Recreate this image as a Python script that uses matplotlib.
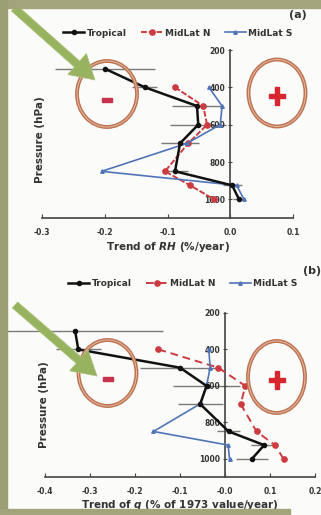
import numpy as np
import matplotlib
matplotlib.use('Agg')
import matplotlib.pyplot as plt
from matplotlib import patches

W, H = 321, 515

plt.rcParams['font.family'] = ['DejaVu Sans']
plt.rcParams['font.weight'] = 'bold'
plt.rcParams['mathtext.fontset'] = 'custom'
plt.rcParams['mathtext.it'] = 'DejaVu Sans:italic:bold'
plt.rcParams['mathtext.rm'] = 'DejaVu Sans:bold'

# pressure levels (hPa)
lev_trop = [300, 400, 500, 600, 700, 850, 925, 1000]
lev_mid = [400, 500, 600, 700, 850, 925, 1000]

# (a) trend of RH (%/year)
rh_trop = [-0.200, -0.136, -0.053, -0.051, -0.080, -0.088, 0.003, 0.014]
rh_trop_err = [0.08, 0.02, 0.04, 0.045, 0.03, 0.02, 0.015, 0.01]
rh_midn = [-0.088, -0.043, -0.037, -0.067, -0.104, -0.064, -0.026]
rh_mids = [-0.034, -0.013, -0.016, -0.069, -0.205, 0.010, 0.022]

# (b) trend of q (% of 1973 value/year)
q_trop = [-0.333, -0.326, -0.100, -0.041, -0.055, 0.008, 0.087, 0.060]
q_trop_err = [0.196, 0.05, 0.09, 0.075, 0.05, 0.025, 0.03, 0.035]
q_midn = [-0.148, -0.015, 0.045, 0.035, 0.070, 0.111, 0.130]
q_mids = [-0.036, -0.033, -0.041, -0.056, -0.159, 0.007, 0.010]

names = ['Tropical', 'MidLat N', 'MidLat S']
yticks = [200, 400, 600, 800, 1000]
txt = '#333333'


def fx(x):
    return x / W


def fy(y):
    return 1 - y / H


def panel(rect, xlim, xstep, trop, err, midn, mids, red_dash, leg_xy, xlabel, xlab_y, ylab_xy):
    ax = fig.add_axes(rect)
    ax.set_facecolor('none')
    eb = ax.errorbar(trop, lev_trop, xerr=err, fmt='none', ecolor='#7a7a7a',
                     elinewidth=1.0, capsize=0, zorder=1)
    for c in eb.lines[2]:
        c.set_clip_on(False)
    ax.plot(midn, lev_mid, color='#cc3b3f', lw=1.4, ls=(0, red_dash), marker='o',
            ms=3.8, mfc='#cc3b3f', mec='#cc3b3f', label=names[1], zorder=3)
    ax.plot(mids, lev_mid, color='#4f74b8', lw=1.2, marker='^', ms=2.5,
            label=names[2], zorder=3)
    ax.plot(trop, lev_trop, color='#111111', lw=1.8, marker='o', ms=3,
            label=names[0], zorder=4)
    ax.set_xlim(*xlim)
    ax.set_ylim(1100, 200)
    ax.set_xticks(np.round(np.arange(xlim[0], xlim[1] + 1e-9, xstep), 1))
    ax.xaxis.set_major_formatter(matplotlib.ticker.FormatStrFormatter('%.1f'))
    ax.set_yticks(yticks)
    for s in ['top', 'right']:
        ax.spines[s].set_visible(False)
    ax.spines['left'].set_position(('data', 0))
    for s in ['left', 'bottom']:
        ax.spines[s].set_color('#444444')
        ax.spines[s].set_linewidth(1.2)
    ax.tick_params(axis='x', direction='in', length=3, pad=7, labelsize=5.5,
                   colors='#444444', labelcolor=txt)
    ax.tick_params(axis='y', direction='inout', length=3, pad=2, labelsize=5.5,
                   colors='#444444', labelcolor=txt)
    h, l = ax.get_legend_handles_labels()
    order = [2, 0, 1]
    ax.legend([h[i] for i in order], [l[i] for i in order], loc='center',
              bbox_to_anchor=(fx(leg_xy[0]), fy(leg_xy[1])), bbox_transform=fig.transFigure,
              ncol=3, frameon=False, fontsize=6.5, handlelength=2.3, handletextpad=0.3,
              columnspacing=1.6, labelcolor=txt)
    fig.text(fx((rect[0] + rect[2] / 2) * W), fy(xlab_y), xlabel, ha='center', va='center',
             fontsize=7.5, color=txt)
    fig.text(fx(ylab_xy[0]), fy(ylab_xy[1]), 'Pressure (hPa)', rotation=90,
             ha='center', va='center', fontsize=7.5, color=txt)
    return ax


fig = plt.figure(figsize=(W / 100, H / 100), dpi=100, facecolor='#fbfbf9')

panel([fx(42), fy(218), 251 / W, 168 / H], (-0.3, 0.1), 0.1,
      rh_trop, rh_trop_err, rh_midn, rh_mids, (3, 1), (178, 33),
      'Trend of $RH$ (%/year)', 247, (40, 140))
panel([fx(45), fy(477), 270 / W, 164 / H], (-0.4, 0.2), 0.1,
      q_trop, q_trop_err, q_midn, q_mids, (4, 2.5), (183, 284),
      'Trend of $q$ (% of 1973 value/year)', 505, (44, 405))

fig.text(fx(298), fy(15), '(a)', ha='center', va='center', fontsize=8, color=txt)
fig.text(fx(312), fy(271), '(b)', ha='center', va='center', fontsize=8, color=txt)

# overlay: circles, arrows, frame
ov = fig.add_axes([0, 0, 1, 1], zorder=10)
ov.set_xlim(0, W)
ov.set_ylim(H, 0)
ov.axis('off')
ov.patch.set_alpha(0)

circles = [(107, 94, 30, 33, '-'), (277, 93, 28.5, 33.5, '+'),
           (107.5, 373, 29, 33, '-'), (276.5, 377, 28.5, 36, '+')]
for cx, cy, rx, ry, sign in circles:
    ov.add_patch(patches.Ellipse((cx, cy), 2 * rx, 2 * ry, fill=False, ec='#bb7352', lw=2.8))
    ov.add_patch(patches.Ellipse((cx, cy), 2 * rx, 2 * ry, fill=False, ec='#e9b99f', lw=0.7))
    if sign == '-':
        ov.add_patch(patches.Rectangle((cx - 5, cy + 4), 10, 3.5, color='#c8324a'))
    else:
        ov.add_patch(patches.Rectangle((cx - 8, cy + 1), 16, 4, color='#d8262e'))
        ov.add_patch(patches.Rectangle((cx - 2, cy - 6), 4, 18, color='#d8262e'))

for x0, y0, x1, y1 in [(14, 8, 95, 80), (15, 305, 97, 376)]:
    ov.add_patch(patches.FancyArrow(x0, y0, x1 - x0, y1 - y0, width=8, head_width=28,
                                    head_length=24, length_includes_head=True,
                                    fc='#97b35f', ec='#a9c27a', lw=0.5))

ov.add_patch(patches.Rectangle((0, 0), W, 8, color='#a3a47c'))
ov.add_patch(patches.Rectangle((0, 0), 7, H, color='#9c9f74'))
ov.add_patch(patches.Rectangle((0, 509), 290, 6, color='#a3a47c'))

fig.savefig('out.png', dpi=100, facecolor=fig.get_facecolor())
